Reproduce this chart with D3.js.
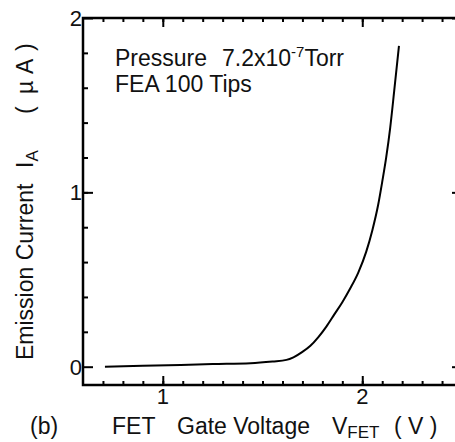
<!DOCTYPE html>
<html>
<head>
<meta charset="utf-8">
<script src="https://cdn.jsdelivr.net/npm/d3@7"></script>
<style>
  body { margin: 0; background: #fff; }
  svg text { font-family: "Liberation Sans", Arial, sans-serif; fill: #111; }
</style>
</head>
<body>
<div id="chart"></div>
<script>
// emission current vs FET gate voltage
var voltage = [0.71, 0.9, 1.09, 1.25, 1.44, 1.55, 1.62, 1.655, 1.70, 1.74, 1.78, 1.82, 1.86, 1.90, 1.94, 1.98, 2.02, 2.05, 2.08, 2.10, 2.12, 2.14, 2.16, 2.184];
var current = [0.0, 0.005, 0.01, 0.015, 0.02, 0.03, 0.039, 0.054, 0.085, 0.12, 0.17, 0.23, 0.30, 0.37, 0.45, 0.54, 0.66, 0.78, 0.93, 1.06, 1.2, 1.37, 1.58, 1.84];

var xMajor = [1, 2];
var yMajor = [0, 1, 2];
var xMinor = d3.range(7, 25).map(function(d) { return d / 10; });
var yMinor = d3.range(1, 10).map(function(d) { return d / 5; });

var width = 455, height = 442;
var margin = { top: 18, left: 83, bottom: 385, right: 462 };

var x = d3.scaleLinear().domain([0.6, 2.5]).range([margin.left, margin.right]);
var y = d3.scaleLinear().domain([-0.105, 2]).range([margin.bottom, margin.top]);

var svg = d3.select("#chart").append("svg")
    .attr("width", width)
    .attr("height", height);

// inward ticks on all four sides
var addTicks = function(axis, tx, ty) {
  var g = svg.append("g")
      .attr("transform", "translate(" + tx + "," + ty + ")")
      .call(axis.tickFormat(""));
  g.select(".domain").remove();
  g.selectAll(".tick line")
      .attr("stroke", "#000")
      .attr("stroke-width", 2);
};

addTicks(d3.axisTop(x).tickValues(xMinor).tickSize(4), 0, margin.bottom);
addTicks(d3.axisTop(x).tickValues(xMajor).tickSize(9), 0, margin.bottom);
addTicks(d3.axisBottom(x).tickValues(xMinor).tickSize(4), 0, margin.top);
addTicks(d3.axisBottom(x).tickValues(xMajor).tickSize(9), 0, margin.top);
addTicks(d3.axisRight(y).tickValues(yMinor).tickSize(5), margin.left, 0);
addTicks(d3.axisRight(y).tickValues(yMajor).tickSize(10), margin.left, 0);
addTicks(d3.axisLeft(y).tickValues(yMajor).tickSize(10), margin.right, 0);

// frame (right side falls just outside the picture)
svg.append("path")
    .attr("d", "M" + margin.right + "," + margin.top + "H" + margin.left + "V" + margin.bottom + "H" + margin.right)
    .attr("fill", "none")
    .attr("stroke", "#000")
    .attr("stroke-width", 2.5);

// tick labels
svg.selectAll(".xlab").data(xMajor).enter().append("text")
    .attr("x", function(d) { return x(d); })
    .attr("y", margin.bottom + 19)
    .style("text-anchor", "middle")
    .style("font-size", "22px")
    .text(function(d) { return d; });

svg.selectAll(".ylab").data(yMajor).enter().append("text")
    .attr("x", margin.left - 1)
    .attr("y", function(d) { return y(d) + 8; })
    .style("text-anchor", "end")
    .style("font-size", "22px")
    .text(function(d) { return d; });

// curve
var line = d3.line()
    .x(function(d, i) { return x(voltage[i]); })
    .y(function(d, i) { return y(current[i]); })
    .curve(d3.curveMonotoneX);

svg.append("path")
    .attr("d", line(current))
    .attr("fill", "none")
    .attr("stroke", "#000")
    .attr("stroke-width", 2);

// annotation
var note = svg.append("text")
    .attr("x", 115)
    .attr("y", 66)
    .style("font-size", "23px");
note.append("tspan").text("Pressure");
note.append("tspan").attr("x", 222).text("7.2x10");
note.append("tspan").attr("dy", -9).style("font-size", "15px").text("-7");
note.append("tspan").attr("dy", 9).text("Torr");

svg.append("text")
    .attr("x", 115)
    .attr("y", 92)
    .style("font-size", "23px")
    .text("FEA 100 Tips");

// x axis label
svg.append("text").attr("x", 30).attr("y", 434).style("font-size", "23px").text("(b)");
var xl = svg.append("text")
    .attr("x", 112)
    .attr("y", 434)
    .style("font-size", "23px");
xl.append("tspan").text("FET");
xl.append("tspan").attr("x", 177).text("Gate Voltage");
xl.append("tspan").attr("x", 332).text("V");
xl.append("tspan").attr("dy", 4).style("font-size", "17px").text("FET");
xl.append("tspan").attr("x", 394).attr("dy", -4).text("( V )");

// y axis label
var yl = svg.append("text")
    .attr("transform", "rotate(-90)")
    .attr("x", -360)
    .attr("y", 33)
    .style("font-size", "23px");
yl.append("tspan").text("Emission Current");
yl.append("tspan").attr("x", -168).text("I");
yl.append("tspan").attr("dy", 5).style("font-size", "17px").text("A");
yl.append("tspan").attr("x", -114).attr("dy", -5).text("(");
yl.append("tspan").attr("x", -94).text("\u00b5");
yl.append("tspan").attr("x", -74).text("A");
yl.append("tspan").attr("x", -51).text(")");
</script>
</body>
</html>
